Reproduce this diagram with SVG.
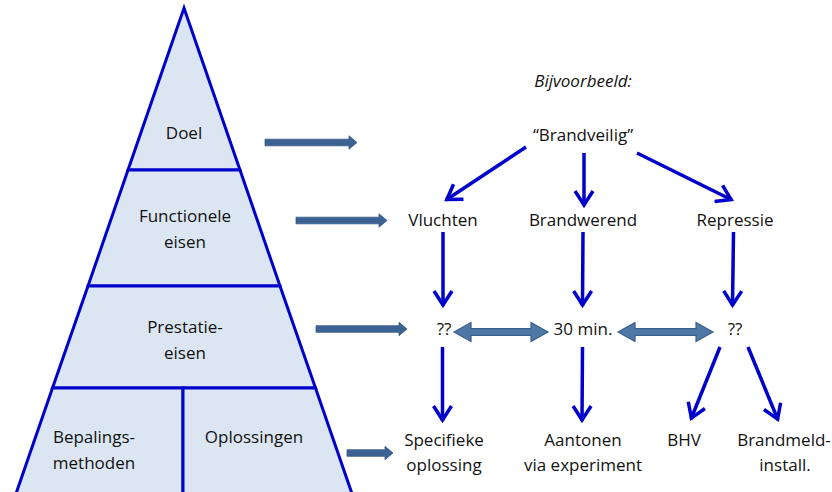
<svg xmlns="http://www.w3.org/2000/svg" width="832" height="492" viewBox="0 0 832 492">
<style>
.lvl{fill:#DCE6F2;stroke:#0000CC;stroke-width:3;stroke-linejoin:miter}
.t{font-family:"Open Sans","Liberation Sans",sans-serif;font-size:17px;fill:#111;text-anchor:middle}
.it{font-style:italic}
.blk{fill:#3C6293;stroke:#355A88;stroke-width:0.8}
.dbl{fill:#4F78A6;stroke:#3A6090;stroke-width:1.2}
.ln{stroke:#0000CC;stroke-width:3.5;fill:none;marker-end:url(#ah)}
</style>
<defs>
<marker id="ah" viewBox="-18 -12 22 24" refX="0" refY="0" markerWidth="22" markerHeight="24" markerUnits="userSpaceOnUse" orient="auto">
<path d="M-15,-9 L-1,0 L-15,9" fill="none" stroke="#0000CC" stroke-width="3.5"/>
</marker>
</defs>
<rect width="832" height="492" fill="#fff"/>
<g id="doel"><polygon class="lvl" points="184,8 240,170 128,170"/><text class="t" x="184" y="139">Doel</text></g>
<g id="functionele-eisen"><polygon class="lvl" points="128,170 240,170 280,286 88,286"/><text class="t" x="185" y="222">Functionele</text><text class="t" x="185" y="248">eisen</text></g>
<g id="prestatie-eisen"><polygon class="lvl" points="88,286 280,286 315.5,388 52.5,388"/><text class="t" x="185" y="333">Prestatie-</text><text class="t" x="185" y="359">eisen</text></g>
<g id="bepalingsmethoden"><polygon class="lvl" points="52.5,388 183,388 183,498 14.5,498"/><text class="t" x="94" y="443">Bepalings-</text><text class="t" x="94" y="469">methoden</text></g>
<g id="oplossingen"><polygon class="lvl" points="183,388 315.5,388 353.5,498 183,498"/><text class="t" x="254" y="443">Oplossingen</text></g>
<g id="bijvoorbeeld"><text class="t it" x="583" y="87">Bijvoorbeeld:</text></g>
<g id="brandveilig"><text class="t" x="583" y="141">“Brandveilig”</text></g>
<g id="vluchten"><text class="t" x="443" y="226">Vluchten</text></g>
<g id="brandwerend"><text class="t" x="583" y="226">Brandwerend</text></g>
<g id="repressie"><text class="t" x="735" y="226">Repressie</text></g>
<g id="q1"><text class="t" x="444" y="335">??</text></g>
<g id="min30"><text class="t" x="583" y="335">30 min.</text></g>
<g id="q2"><text class="t" x="735" y="335">??</text></g>
<g id="specifieke"><text class="t" x="444" y="446">Specifieke</text><text class="t" x="444" y="471">oplossing</text></g>
<g id="aantonen"><text class="t" x="583" y="446">Aantonen</text><text class="t" x="583" y="471">via experiment</text></g>
<g id="bhv"><text class="t" x="684" y="446">BHV</text></g>
<g id="brandmeld"><text class="t" x="784" y="446">Brandmeld-</text><text class="t" x="785" y="471">install.</text></g>
<g id="connectors">
<path class="blk" d="M265,139.2 H349 V135.8 L357,142.5 L349,149.2 V145.8 H265 Z"/>
<path class="blk" d="M296,217.2 H379 V213.8 L387,220.5 L379,227.2 V223.8 H296 Z"/>
<path class="blk" d="M316,325.7 H399 V322.3 L407,329 L399,335.7 V332.3 H316 Z"/>
<path class="blk" d="M347,449.7 H385 V446.3 L393,453 L385,459.7 V456.3 H347 Z"/>
<path class="dbl" d="M454,332 L471,322.5 V328.7 H531 V322.5 L548,332 L531,341.5 V335.3 H471 V341.5 Z"/>
<path class="dbl" d="M618,332 L635,322.5 V328.7 H696 V322.5 L713,332 L696,341.5 V335.3 H635 V341.5 Z"/>
<line class="ln" x1="526" y1="147" x2="446" y2="200"/>
<line class="ln" x1="584" y1="153" x2="584" y2="206"/>
<line class="ln" x1="637" y1="153" x2="732" y2="200"/>
<line class="ln" x1="443" y1="232" x2="443" y2="306"/>
<line class="ln" x1="583" y1="232" x2="582.5" y2="306"/>
<line class="ln" x1="733.5" y1="232" x2="732.5" y2="306"/>
<line class="ln" x1="442.5" y1="347" x2="442.5" y2="421"/>
<line class="ln" x1="582.5" y1="347" x2="582" y2="421"/>
<line class="ln" x1="720" y1="347" x2="691" y2="419"/>
<line class="ln" x1="748" y1="347" x2="778" y2="420"/>
</g>
</svg>
